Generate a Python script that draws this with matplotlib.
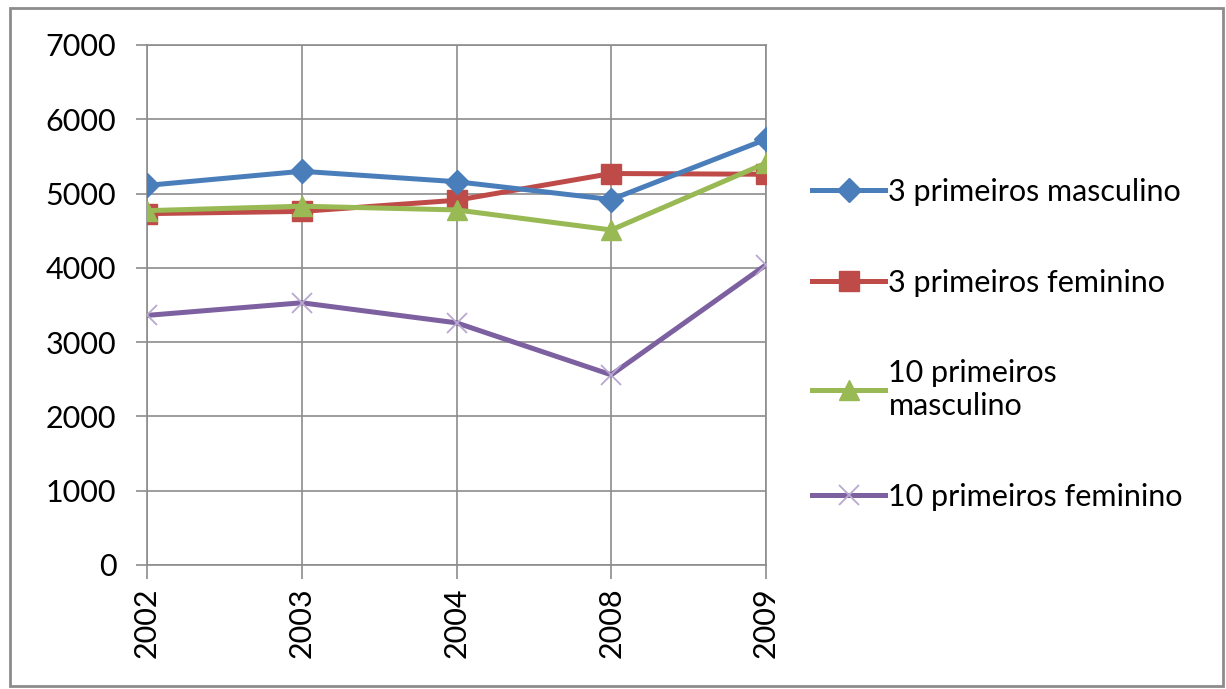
import matplotlib
matplotlib.use("Agg")
from matplotlib import pyplot as plt
from matplotlib.patches import Rectangle

# categories on the x axis
years = ["2002", "2003", "2004", "2008", "2009"]

# series values
m3 = [5110, 5300, 5160, 4920, 5730]
f3 = [4730, 4760, 4910, 5270, 5260]
m10 = [4770, 4830, 4780, 4510, 5410]
f10 = [3360, 3530, 3260, 2560, 4040]

labels = ["3 primeiros masculino", "3 primeiros feminino",
          "10 primeiros\nmasculino", "10 primeiros feminino"]

plt.rcParams['font.family'] = ['Lato', 'DejaVu Sans']

fig = plt.figure(figsize=(12.26, 6.89), dpi=100)
ax = fig.add_axes([147/1226, 1 - 565/689, (766-147)/1226, (565-45)/689])

grey = "#8c8c8c"
x = list(range(len(years)))
ax.plot(x, m3, color="#4a7ebb", lw=3.6, marker="D", ms=12, label=labels[0], zorder=5)
ax.plot(x, f3, color="#be4b48", lw=3.6, marker="s", ms=14, label=labels[1], zorder=4)
ax.plot(x, m10, color="#98b954", lw=3.6, marker="^", ms=14, label=labels[2], zorder=6)
ax.plot(x, f10, color="#7d60a0", lw=3.6, marker="x", ms=15, mew=1.3,
        mec="#b9a8d0", label=labels[3], zorder=3)

ax.set_xlim(0, len(years) - 1)
ax.set_ylim(0, 7000)
ax.set_yticks(range(0, 7001, 1000))
ax.set_xticks(x)
ax.set_xticklabels(years, rotation=90, fontsize=22)
ax.tick_params(axis="y", labelsize=22, length=8, width=1.2, color=grey, pad=14)
ax.tick_params(axis="x", length=10, width=1.2, color=grey, pad=6)
ax.grid(True, color=grey, lw=1.2)
for s in ax.spines.values():
    s.set_color(grey)
    s.set_linewidth(1.2)
ax.set_axisbelow(True)

leg = ax.legend(loc="upper left", bbox_to_anchor=(812/1226, 1 - 178/689),
                bbox_transform=fig.transFigure, frameon=False, fontsize=22,
                handlelength=2.4, handletextpad=0.1, labelspacing=2.05,
                borderaxespad=0, borderpad=0)

fig.patches.append(Rectangle((10/1226, 1 - 686/689), 1213/1226, 678/689,
                             transform=fig.transFigure, fill=False,
                             edgecolor="#8c8c8c", lw=2))

fig.savefig("out.png", dpi=100)
